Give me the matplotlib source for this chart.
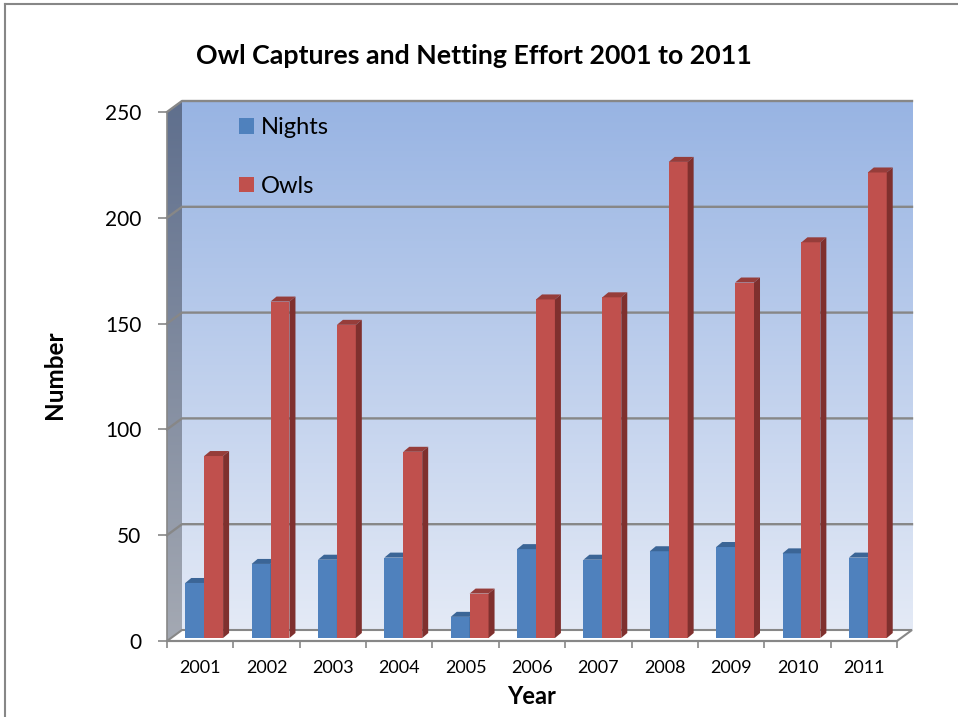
import numpy as np
import matplotlib
matplotlib.use('Agg')
import matplotlib.pyplot as plt
from matplotlib.patches import Polygon
from matplotlib.lines import Line2D

years = ['2001', '2002', '2003', '2004', '2005', '2006', '2007', '2008', '2009', '2010', '2011']
nights = [26, 35, 37, 38, 10, 42, 37, 41, 43, 40, 38]
owls = [86, 159, 148, 88, 21, 160, 161, 225, 168, 187, 220]
yticks = [0, 50, 100, 150, 200, 250]

plt.rcParams['font.family'] = ['Lato', 'DejaVu Sans']

W, H = 958, 717
fig = plt.figure(figsize=(W / 100., H / 100.), dpi=100)
# front plane of the 3d box, in pixels
x0, x1 = 167, 897
ytop, ybot = 112, 641
ax = fig.add_axes([x0 / W, (H - ybot) / H, (x1 - x0) / W, (ybot - ytop) / H])
n = len(years)
ax.patch.set_visible(False)

px = n / float(x1 - x0)        # one pixel in x data units
py = 250. / (ybot - ytop)      # one pixel in y data units
DX, DY = 15 * px, 11 * py      # depth of the box
grey = '#878787'

# back wall with gradient
grad = np.linspace(0, 1, 256)[:, None]
c_top = np.array([152, 180, 227]) / 255.
c_bot = np.array([228, 234, 246]) / 255.
img = c_top[None, None, :] * (1 - grad[..., None]) + c_bot[None, None, :] * grad[..., None]
img = np.repeat(img, 2, axis=1)
ax.imshow(img, extent=[DX, n + DX, DY, 250 + DY], aspect='auto', clip_on=False, zorder=0)

# left side wall
s_top = np.array([95, 111, 141]) / 255.
s_bot = np.array([164, 169, 179]) / 255.
simg = s_top[None, None, :] * (1 - grad[..., None]) + s_bot[None, None, :] * grad[..., None]
simg = np.repeat(simg, 2, axis=1)
side = Polygon([(0, 0), (0, 250), (DX, 250 + DY), (DX, DY)], closed=True,
               transform=ax.transData, facecolor='none', edgecolor='none')
ax.add_patch(side)
im2 = ax.imshow(simg, extent=[0, DX, 0, 250 + DY], aspect='auto', zorder=0)
im2.set_clip_box(fig.bbox)
im2.set_clip_path(side)
ax.set_xlim(0, n)
ax.set_ylim(0, 250)

# floor
ax.add_patch(Polygon([(0, 0), (n, 0), (n + DX, DY), (DX, DY)], closed=True,
                     facecolor='white', edgecolor=grey, lw=1.5, clip_on=False, zorder=1))

# grid lines on walls
for v in yticks[1:]:
    ax.plot([0, DX, n + DX], [v, v + DY, v + DY], color=grey, lw=1.7, clip_on=False, zorder=1)
ax.plot([0, 0], [0, 250], color=grey, lw=1.2, clip_on=False, zorder=1)

# bars with fake depth
w = 0.285
sx, sy = 4 * px, 3 * py
bx, by = 6 * px, 5 * py
xpos = np.arange(n) + 0.5 + sx
series = [(nights, xpos - w, '#4F81BD', '#3B6596', '#385D8A', 'Nights'),
          (owls, xpos, '#C0504D', '#963D3A', '#7F302E', 'Owls')]
handles = []
for vals, xs, cf, ct, cs, lab in series:
    b = ax.bar(xs, vals, width=w, bottom=sy, align='edge', color=cf, label=lab,
               zorder=3, clip_on=False)
    handles.append(b)
    for xx, v in zip(xs, vals):
        t = v + sy
        ax.add_patch(Polygon([(xx, t), (xx + w, t), (xx + w + bx, t + by), (xx + bx, t + by)],
                             closed=True, facecolor=ct, edgecolor='none', zorder=3, clip_on=False))
        ax.add_patch(Polygon([(xx + w, sy), (xx + w, t), (xx + w + bx, t + by), (xx + w + bx, sy + by)],
                             closed=True, facecolor=cs, edgecolor='none', zorder=3, clip_on=False))

# axes and ticks
for s in ['top', 'right', 'left']:
    ax.spines[s].set_visible(False)
ax.spines['bottom'].set_color(grey)
ax.spines['bottom'].set_linewidth(1.5)
ax.set_yticks(yticks)
ax.set_yticklabels([str(v) for v in yticks], fontsize=15)
ax.tick_params(axis='y', length=6.5, width=1.2, color=grey, pad=12)
ax.set_xticks(np.arange(n) + 0.5)
ax.set_xticklabels(years, fontsize=13)
ax.set_xticks(np.arange(n + 1), minor=True)
ax.tick_params(axis='x', which='major', length=0, pad=14)
ax.tick_params(axis='x', which='minor', length=5, width=1.2, color=grey)

ax.legend(handles=handles, loc='upper left', bbox_to_anchor=(239 / W, 1 - 117 / H),
          bbox_transform=fig.transFigure, frameon=False, fontsize=17,
          handlelength=0.64, handleheight=0.64, handletextpad=0.3,
          labelspacing=1.6, borderpad=0, borderaxespad=0)

fig.text(474 / W, 1 - 56 / H, 'Owl Captures and Netting Effort 2001 to 2011', ha='center',
         va='center', fontsize=19.3, fontweight='bold')
fig.text(55 / W, 1 - 375 / H, 'Number', rotation=90, ha='center', va='center',
         fontsize=17.5, fontweight='bold')
fig.text(532 / W, 1 - 697 / H, 'Year', ha='center', va='center', fontsize=17, fontweight='bold')

# outer frame
fig.add_artist(Line2D([5 / W, 1], [1 - 4 / H, 1 - 4 / H], color=grey, lw=1.5))
fig.add_artist(Line2D([5 / W, 5 / W], [0, 1 - 4 / H], color=grey, lw=1.5))

plt.savefig('out.png', dpi=100)
